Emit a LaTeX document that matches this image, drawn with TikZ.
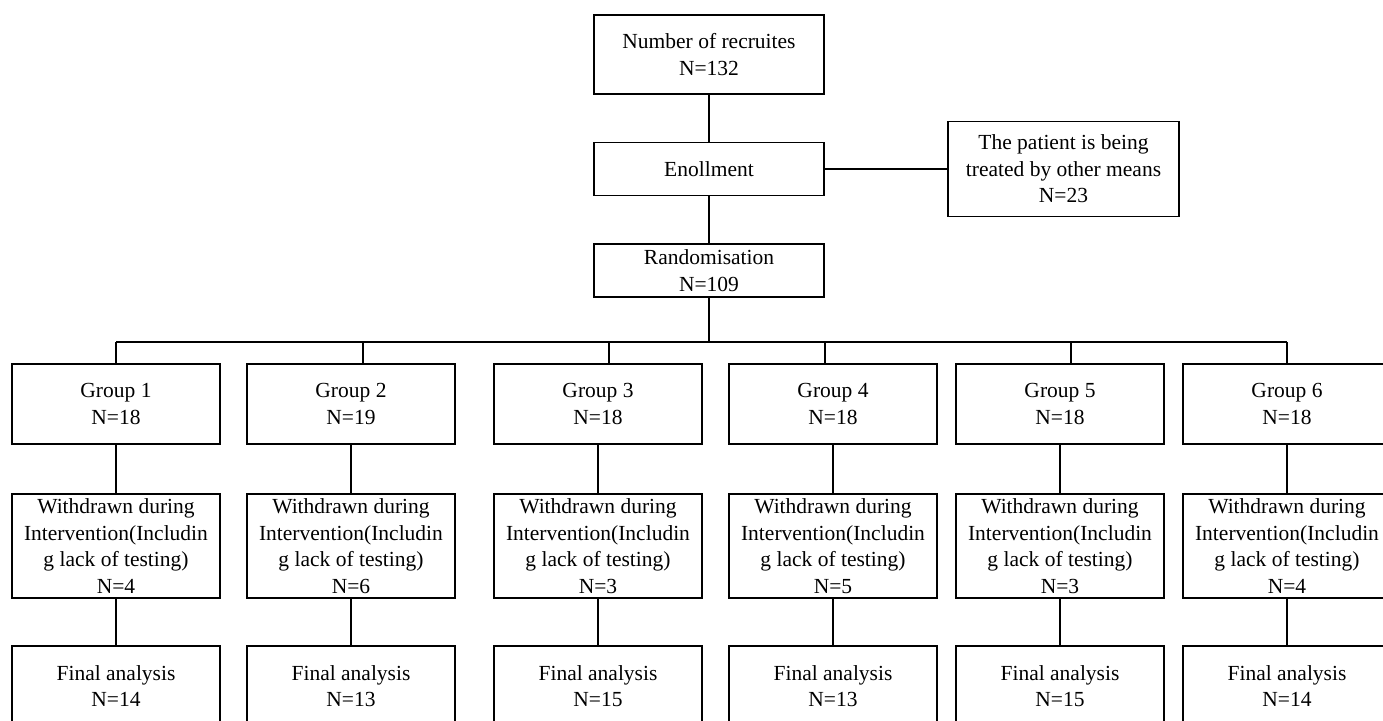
\documentclass[tikz,border=0pt]{standalone}
\usepackage{fontspec}
\setmainfont{Liberation Serif}
\begin{document}
\begin{tikzpicture}[x=1pt,y=-1pt,
  box/.style={draw,line width=1.8pt,inner sep=0pt,align=center,
    font=\fontsize{21.5}{26.5}\selectfont},
  gbox/.style={box,minimum width=208pt},
  ln/.style={line width=1.8pt}]
\useasboundingbox (0,0) rectangle (1383,720);
\clip (0,0) rectangle (1383,720);
\fill[white] (0,0) rectangle (1383,720);
% top column
\node[box,minimum width=230pt,minimum height=79pt] (top) at (709,54.5) {Number of recruites\\N=132};
\node[box,minimum width=230pt,minimum height=53pt] (enr) at (709,169) {Enollment};
\node[box,minimum width=230pt,minimum height=53pt] (rand) at (709,270.5) {Randomisation\\N=109};
\node[box,minimum width=231pt,minimum height=95pt] (pat) at (1063.5,169) {The patient is being\\treated by other means\\N=23};
\draw[ln] (top.south) -- (enr.north);
\draw[ln] (enr.south) -- (rand.north);
\draw[ln] (enr.east) -- (pat.west);
% groups
\foreach \i/\cx/\gn/\wn/\fn in {1/116/18/4/14, 2/351/19/6/13, 3/598/18/3/15, 4/833/18/5/13, 5/1060/18/3/15, 6/1287/18/4/14}{
  \node[gbox,minimum height=80pt] (g\i) at (\cx,404) {Group \i\\N=\gn};
  \node[gbox,minimum height=104pt] (w\i) at (\cx,546) {Withdrawn during\\Intervention(Includin\\g lack of testing)\\N=\wn};
  \node[gbox,minimum height=80pt] (f\i) at (\cx,686) {Final analysis\\N=\fn};
  \draw[ln] (g\i.south) -- (w\i.north);
  \draw[ln] (w\i.south) -- (f\i.north);
}
% bus
\coordinate (bus) at (709,342);
\coordinate (d1) at (116,342);
\coordinate (d2) at (363,342);
\coordinate (d3) at (609,342);
\coordinate (d4) at (825,342);
\coordinate (d5) at (1071,342);
\coordinate (d6) at (1287,342);
\draw[ln] (rand.south) -- (bus);
\draw[ln] (d1) -- (d6);
\foreach \i in {1,...,6}{
  \draw[ln] (d\i) -- (d\i |- g\i.north);
}
\end{tikzpicture}
\end{document}
